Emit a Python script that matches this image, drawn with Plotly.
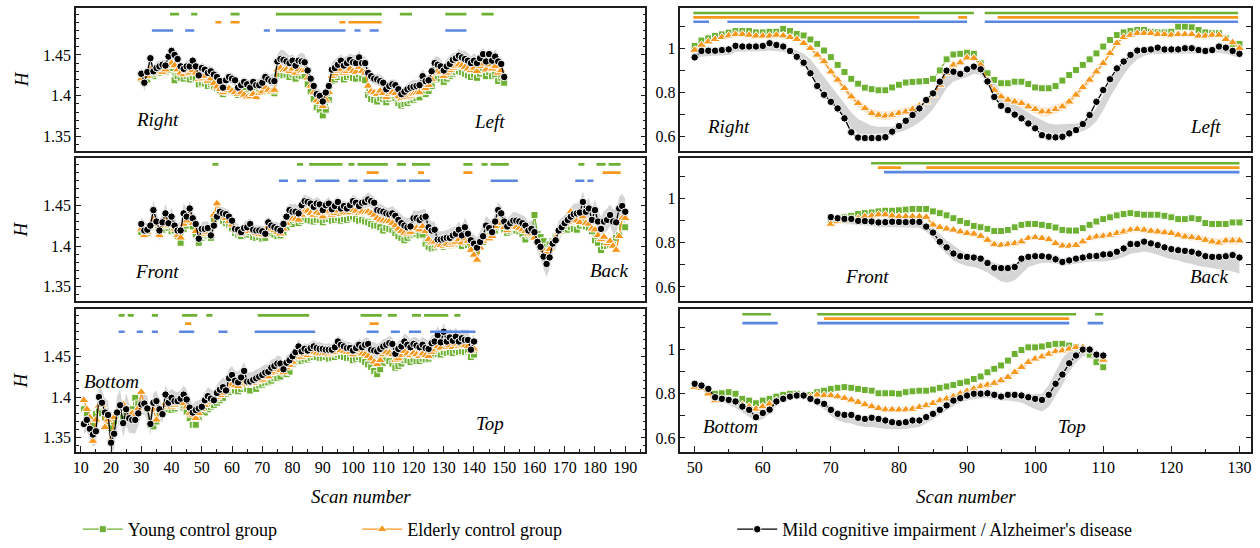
import plotly.graph_objects as go

# ---------------------------------------------------------------------------
# Column A: long scan series (scan numbers 10-190)
# ---------------------------------------------------------------------------
A_RL_SCANS = list(range(30, 151))
A_RL_MCI = [
    1.427, 1.416, 1.429, 1.446, 1.430, 1.434, 1.436, 1.438, 1.437, 1.448,
    1.455, 1.450, 1.445, 1.436, 1.433, 1.436, 1.436, 1.443, 1.436, 1.425,
    1.434, 1.432, 1.428, 1.430, 1.426, 1.423, 1.418, 1.410, 1.419, 1.423,
    1.421, 1.419, 1.410, 1.413, 1.417, 1.414, 1.410, 1.417, 1.413, 1.413,
    1.416, 1.423, 1.420, 1.418, 1.418, 1.442, 1.445, 1.444, 1.442, 1.440,
    1.443, 1.437, 1.443, 1.442, 1.441, 1.431, 1.421, 1.412, 1.402, 1.400,
    1.393, 1.404, 1.412, 1.432, 1.434, 1.438, 1.443, 1.437, 1.440, 1.444,
    1.441, 1.440, 1.447, 1.440, 1.440, 1.428, 1.424, 1.421, 1.420, 1.418,
    1.416, 1.408, 1.412, 1.414, 1.413, 1.408, 1.402, 1.405, 1.408, 1.410,
    1.411, 1.412, 1.413, 1.424, 1.418, 1.419, 1.430, 1.440, 1.438, 1.436,
    1.431, 1.436, 1.439, 1.444, 1.446, 1.449, 1.447, 1.445, 1.443, 1.440,
    1.443, 1.440, 1.446, 1.451, 1.442, 1.451, 1.443, 1.448, 1.442, 1.439,
    1.423]
A_RL_ELDERLY = [
    1.421, 1.425, 1.424, 1.432, 1.428, 1.433, 1.430, 1.429, 1.432, 1.436,
    1.440, 1.437, 1.432, 1.428, 1.426, 1.430, 1.428, 1.431, 1.428, 1.420,
    1.422, 1.424, 1.418, 1.421, 1.415, 1.411, 1.408, 1.404, 1.407, 1.409,
    1.406, 1.404, 1.402, 1.404, 1.401, 1.398, 1.399, 1.402, 1.398, 1.403,
    1.405, 1.410, 1.407, 1.405, 1.407, 1.432, 1.434, 1.431, 1.432, 1.430,
    1.433, 1.428, 1.432, 1.430, 1.431, 1.422, 1.412, 1.404, 1.394, 1.392,
    1.387, 1.395, 1.404, 1.424, 1.427, 1.430, 1.432, 1.428, 1.430, 1.433,
    1.430, 1.429, 1.435, 1.430, 1.428, 1.412, 1.405, 1.404, 1.402, 1.406,
    1.403, 1.398, 1.402, 1.404, 1.403, 1.399, 1.396, 1.397, 1.398, 1.400,
    1.402, 1.403, 1.404, 1.412, 1.409, 1.413, 1.420, 1.428, 1.430, 1.429,
    1.424, 1.428, 1.431, 1.434, 1.436, 1.438, 1.437, 1.435, 1.433, 1.431,
    1.434, 1.430, 1.436, 1.439, 1.432, 1.438, 1.433, 1.436, 1.428, 1.431,
    1.424]
A_RL_YOUNG = [
    1.421, 1.419, 1.420, 1.425, 1.424, 1.427, 1.428, 1.430, 1.429, 1.432,
    1.434, 1.419, 1.424, 1.422, 1.421, 1.424, 1.420, 1.423, 1.421, 1.414,
    1.416, 1.415, 1.412, 1.414, 1.411, 1.409, 1.407, 1.402, 1.405, 1.408,
    1.406, 1.404, 1.401, 1.404, 1.406, 1.402, 1.400, 1.405, 1.402, 1.404,
    1.405, 1.409, 1.407, 1.406, 1.403, 1.425, 1.427, 1.425, 1.426, 1.423,
    1.426, 1.421, 1.425, 1.424, 1.424, 1.414, 1.405, 1.396, 1.386, 1.383,
    1.376, 1.383, 1.395, 1.418, 1.420, 1.423, 1.426, 1.420, 1.423, 1.425,
    1.422, 1.421, 1.426, 1.421, 1.419, 1.401, 1.396, 1.395, 1.393, 1.397,
    1.396, 1.392, 1.396, 1.398, 1.397, 1.391, 1.388, 1.390, 1.391, 1.394,
    1.395, 1.397, 1.398, 1.404, 1.402, 1.406, 1.412, 1.420, 1.422, 1.421,
    1.417, 1.421, 1.424, 1.427, 1.429, 1.430, 1.429, 1.427, 1.425, 1.423,
    1.426, 1.422, 1.427, 1.430, 1.424, 1.429, 1.424, 1.426, 1.418, 1.422,
    1.416]
A_RL_SPREAD = [
    0.008, 0.010, 0.006, 0.007, 0.006, 0.008, 0.007, 0.006, 0.007, 0.006,
    0.006, 0.007, 0.008, 0.007, 0.006, 0.007, 0.008, 0.006, 0.007, 0.008,
    0.007, 0.006, 0.008, 0.007, 0.006, 0.007, 0.008, 0.009, 0.007, 0.006,
    0.007, 0.006, 0.008, 0.007, 0.006, 0.007, 0.008, 0.006, 0.007, 0.008,
    0.009, 0.007, 0.006, 0.008, 0.010, 0.009, 0.011, 0.012, 0.010, 0.009,
    0.008, 0.010, 0.008, 0.011, 0.010, 0.008, 0.007, 0.008, 0.007, 0.008,
    0.009, 0.008, 0.007, 0.009, 0.010, 0.009, 0.008, 0.010, 0.009, 0.008,
    0.009, 0.010, 0.008, 0.009, 0.008, 0.008, 0.007, 0.006, 0.007, 0.008,
    0.007, 0.008, 0.007, 0.006, 0.007, 0.008, 0.007, 0.006, 0.007, 0.008,
    0.009, 0.007, 0.008, 0.009, 0.007, 0.006, 0.007, 0.008, 0.010, 0.009,
    0.008, 0.009, 0.010, 0.008, 0.007, 0.009, 0.008, 0.010, 0.009, 0.008,
    0.009, 0.008, 0.007, 0.008, 0.009, 0.007, 0.008, 0.009, 0.007, 0.008,
    0.007]
A_RL_BARS_GREEN = [(39.5, 42.5), (46.5, 48.5), (59.5, 62.5), (74.5, 109.5),
                   (115.5, 119.5), (130.5, 137.5), (142.5, 146.5)]
A_RL_BARS_ORANGE = [(54.5, 56.5), (59.5, 62.5), (95.5, 97.5), (98.5, 109.5)]
A_RL_BARS_BLUE = [(33.5, 40.5), (44.5, 47.5), (70.5, 72.5), (74.5, 97.5),
                  (100.5, 102.5), (105.5, 108.5), (130.5, 137.5)]

A_FB_SCANS = list(range(30, 191))
A_FB_MCI = [
    1.427, 1.419, 1.420, 1.425, 1.444, 1.430, 1.419, 1.429, 1.440, 1.428,
    1.436, 1.425, 1.419, 1.419, 1.440, 1.436, 1.446, 1.434, 1.427, 1.409,
    1.421, 1.421, 1.422, 1.413, 1.425, 1.436, 1.442, 1.440, 1.439, 1.436,
    1.431, 1.421, 1.420, 1.417, 1.422, 1.423, 1.427, 1.420, 1.419, 1.419,
    1.418, 1.415, 1.429, 1.425, 1.423, 1.421, 1.419, 1.427, 1.436, 1.444,
    1.442, 1.442, 1.440, 1.450, 1.455, 1.454, 1.452, 1.448, 1.452, 1.451,
    1.444, 1.450, 1.452, 1.445, 1.449, 1.454, 1.446, 1.449, 1.446, 1.450,
    1.455, 1.453, 1.449, 1.453, 1.454, 1.457, 1.455, 1.453, 1.444, 1.443,
    1.442, 1.440, 1.439, 1.440, 1.437, 1.432, 1.428, 1.425, 1.423, 1.424,
    1.434, 1.434, 1.432, 1.435, 1.436, 1.423, 1.419, 1.420, 1.408, 1.408,
    1.409, 1.410, 1.410, 1.413, 1.415, 1.420, 1.413, 1.423, 1.415, 1.407,
    1.403, 1.398, 1.405, 1.412, 1.425, 1.422, 1.417, 1.430, 1.444, 1.440,
    1.430, 1.424, 1.428, 1.431, 1.431, 1.430, 1.428, 1.425, 1.419, 1.421,
    1.417, 1.405, 1.399, 1.387, 1.378, 1.386, 1.403, 1.407, 1.419, 1.423,
    1.428, 1.432, 1.436, 1.439, 1.440, 1.441, 1.454, 1.442, 1.446, 1.432,
    1.444, 1.430, 1.421, 1.430, 1.432, 1.438, 1.430, 1.429, 1.446, 1.449,
    1.442]
A_FB_ELDERLY = [
    1.421, 1.413, 1.417, 1.424, 1.432, 1.427, 1.413, 1.424, 1.432, 1.425,
    1.428, 1.421, 1.413, 1.410, 1.427, 1.431, 1.437, 1.428, 1.418, 1.412,
    1.418, 1.415, 1.417, 1.414, 1.438, 1.452, 1.441, 1.436, 1.434, 1.430,
    1.426, 1.420, 1.418, 1.415, 1.419, 1.418, 1.423, 1.418, 1.416, 1.414,
    1.414, 1.413, 1.424, 1.421, 1.419, 1.417, 1.415, 1.421, 1.428, 1.434,
    1.433, 1.433, 1.432, 1.438, 1.442, 1.443, 1.440, 1.438, 1.441, 1.440,
    1.436, 1.441, 1.443, 1.438, 1.440, 1.443, 1.439, 1.441, 1.440, 1.441,
    1.444, 1.443, 1.440, 1.442, 1.441, 1.442, 1.440, 1.438, 1.434, 1.432,
    1.431, 1.430, 1.430, 1.428, 1.425, 1.421, 1.418, 1.416, 1.415, 1.417,
    1.421, 1.422, 1.420, 1.424, 1.418, 1.408, 1.404, 1.405, 1.400, 1.401,
    1.400, 1.402, 1.401, 1.403, 1.405, 1.408, 1.404, 1.409, 1.406, 1.395,
    1.389, 1.383, 1.398, 1.406, 1.411, 1.409, 1.412, 1.424, 1.430, 1.428,
    1.423, 1.419, 1.422, 1.424, 1.423, 1.422, 1.420, 1.418, 1.414, 1.415,
    1.410, 1.405, 1.400, 1.395, 1.392, 1.396, 1.403, 1.410, 1.417, 1.423,
    1.427, 1.429, 1.442, 1.432, 1.431, 1.429, 1.436, 1.428, 1.427, 1.421,
    1.420, 1.413, 1.408, 1.411, 1.403, 1.406, 1.400, 1.395, 1.412, 1.434,
    1.434]
A_FB_YOUNG = [
    1.417, 1.420, 1.416, 1.423, 1.428, 1.424, 1.417, 1.420, 1.426, 1.422,
    1.418, 1.419, 1.412, 1.404, 1.421, 1.425, 1.430, 1.424, 1.414, 1.404,
    1.410, 1.412, 1.414, 1.410, 1.433, 1.440, 1.438, 1.431, 1.428, 1.426,
    1.421, 1.416, 1.414, 1.412, 1.416, 1.414, 1.417, 1.411, 1.410, 1.411,
    1.409, 1.410, 1.418, 1.416, 1.414, 1.412, 1.413, 1.416, 1.422, 1.428,
    1.427, 1.432, 1.428, 1.431, 1.433, 1.432, 1.431, 1.430, 1.432, 1.432,
    1.429, 1.432, 1.433, 1.431, 1.432, 1.434, 1.431, 1.433, 1.432, 1.434,
    1.436, 1.433, 1.431, 1.432, 1.430, 1.429, 1.427, 1.425, 1.425, 1.423,
    1.419, 1.422, 1.421, 1.420, 1.416, 1.412, 1.410, 1.407, 1.410, 1.413,
    1.414, 1.415, 1.413, 1.414, 1.403, 1.399, 1.397, 1.398, 1.399, 1.400,
    1.399, 1.401, 1.400, 1.401, 1.402, 1.403, 1.400, 1.404, 1.401, 1.396,
    1.393, 1.394, 1.400, 1.405, 1.414, 1.412, 1.415, 1.419, 1.424, 1.423,
    1.420, 1.416, 1.418, 1.420, 1.419, 1.418, 1.415, 1.408, 1.413, 1.414,
    1.438, 1.415, 1.411, 1.406, 1.399, 1.402, 1.406, 1.411, 1.417, 1.419,
    1.421, 1.420, 1.423, 1.421, 1.420, 1.425, 1.428, 1.424, 1.422, 1.418,
    1.407, 1.404, 1.395, 1.400, 1.400, 1.401, 1.405, 1.410, 1.413, 1.423,
    1.423]
A_FB_SPREAD = [
    0.009, 0.011, 0.008, 0.010, 0.012, 0.011, 0.013, 0.010, 0.012, 0.009,
    0.011, 0.010, 0.009, 0.010, 0.012, 0.010, 0.009, 0.008, 0.009, 0.010,
    0.008, 0.009, 0.008, 0.010, 0.009, 0.008, 0.007, 0.008, 0.007, 0.008,
    0.007, 0.008, 0.007, 0.006, 0.007, 0.008, 0.007, 0.006, 0.007, 0.006,
    0.007, 0.008, 0.007, 0.006, 0.007, 0.008, 0.009, 0.008, 0.007, 0.008,
    0.009, 0.010, 0.008, 0.009, 0.008, 0.007, 0.008, 0.009, 0.008, 0.007,
    0.008, 0.007, 0.008, 0.009, 0.008, 0.007, 0.008, 0.007, 0.008, 0.007,
    0.008, 0.007, 0.008, 0.007, 0.008, 0.009, 0.008, 0.007, 0.008, 0.009,
    0.008, 0.007, 0.008, 0.009, 0.008, 0.010, 0.011, 0.010, 0.012, 0.011,
    0.010, 0.009, 0.011, 0.010, 0.009, 0.010, 0.011, 0.010, 0.009, 0.010,
    0.009, 0.010, 0.011, 0.010, 0.009, 0.010, 0.011, 0.012, 0.011, 0.010,
    0.011, 0.012, 0.013, 0.014, 0.012, 0.011, 0.010, 0.011, 0.010, 0.009,
    0.010, 0.009, 0.010, 0.011, 0.010, 0.009, 0.010, 0.011, 0.010, 0.011,
    0.012, 0.013, 0.014, 0.015, 0.016, 0.014, 0.012, 0.011, 0.012, 0.011,
    0.010, 0.011, 0.012, 0.013, 0.012, 0.014, 0.013, 0.012, 0.013, 0.014,
    0.013, 0.014, 0.015, 0.013, 0.014, 0.013, 0.015, 0.016, 0.014, 0.015,
    0.016]
A_FB_BARS_GREEN = [(53.5, 55.5), (81.5, 83.5), (85.5, 96.5), (98.5, 100.5),
                   (101.5, 111.5), (114.5, 117.5), (119.5, 125.5), (136.5, 139.5),
                   (142.5, 144.5), (145.5, 151.5), (174.5, 176.5), (180.5, 183.5),
                   (184.5, 188.5)]
A_FB_BARS_ORANGE = [(104.5, 108.5), (121.5, 123.5), (136.5, 139.5), (182.5, 188.5)]
A_FB_BARS_BLUE = [(75.5, 78.5), (81.5, 84.5), (87.5, 95.5), (98.5, 101.5),
                  (103.5, 111.5), (114.5, 117.5), (118.5, 125.5), (145.5, 154.5),
                  (173.5, 176.5), (177.5, 179.5)]

A_BT_SCANS = list(range(11, 141))
A_BT_MCI = [
    1.367, 1.372, 1.361, 1.354, 1.358, 1.400, 1.393, 1.381, 1.378, 1.344,
    1.355, 1.381, 1.390, 1.368, 1.385, 1.374, 1.372, 1.372, 1.380, 1.391,
    1.392, 1.386, 1.367, 1.393, 1.395, 1.385, 1.379, 1.403, 1.393, 1.399,
    1.395, 1.395, 1.398, 1.403, 1.397, 1.387, 1.381, 1.384, 1.386, 1.388,
    1.396, 1.401, 1.398, 1.396, 1.405, 1.409, 1.412, 1.408, 1.423, 1.427,
    1.420, 1.418, 1.424, 1.432, 1.419, 1.419, 1.421, 1.423, 1.425, 1.427,
    1.430, 1.431, 1.436, 1.438, 1.441, 1.441, 1.434, 1.442, 1.445, 1.450,
    1.455, 1.462, 1.456, 1.459, 1.457, 1.460, 1.462, 1.460, 1.459, 1.459,
    1.458, 1.458, 1.458, 1.461, 1.468, 1.464, 1.462, 1.460, 1.460, 1.457,
    1.460, 1.464, 1.461, 1.464, 1.465, 1.458, 1.457, 1.456, 1.459, 1.462,
    1.464, 1.466, 1.465, 1.453, 1.459, 1.462, 1.468, 1.464, 1.461, 1.465,
    1.463, 1.461, 1.464, 1.460, 1.459, 1.466, 1.468, 1.476, 1.467, 1.480,
    1.468, 1.473, 1.469, 1.474, 1.468, 1.472, 1.470, 1.470, 1.458, 1.468]
A_BT_ELDERLY = [
    1.396, 1.385, 1.375, 1.346, 1.372, 1.389, 1.390, 1.363, 1.372, 1.348,
    1.375, 1.382, 1.388, 1.391, 1.385, 1.380, 1.380, 1.378, 1.386, 1.406,
    1.390, 1.387, 1.385, 1.384, 1.372, 1.385, 1.388, 1.392, 1.390, 1.388,
    1.390, 1.392, 1.395, 1.392, 1.388, 1.380, 1.378, 1.374, 1.380, 1.385,
    1.390, 1.394, 1.396, 1.397, 1.400, 1.402, 1.405, 1.410, 1.413, 1.416,
    1.414, 1.413, 1.417, 1.420, 1.415, 1.416, 1.417, 1.419, 1.420, 1.421,
    1.424, 1.425, 1.429, 1.431, 1.434, 1.433, 1.430, 1.436, 1.439, 1.443,
    1.448, 1.453, 1.449, 1.452, 1.451, 1.454, 1.455, 1.454, 1.453, 1.453,
    1.454, 1.452, 1.454, 1.455, 1.460, 1.457, 1.456, 1.455, 1.455, 1.452,
    1.455, 1.457, 1.453, 1.452, 1.450, 1.447, 1.443, 1.440, 1.445, 1.452,
    1.455, 1.454, 1.452, 1.445, 1.447, 1.451, 1.456, 1.453, 1.451, 1.454,
    1.452, 1.450, 1.453, 1.451, 1.450, 1.455, 1.458, 1.462, 1.460, 1.466,
    1.461, 1.463, 1.461, 1.465, 1.462, 1.464, 1.463, 1.462, 1.456, 1.459]
A_BT_YOUNG = [
    1.385, 1.380, 1.370, 1.365, 1.379, 1.384, 1.380, 1.375, 1.370, 1.362,
    1.370, 1.378, 1.380, 1.376, 1.382, 1.382, 1.385, 1.399, 1.392, 1.390,
    1.390, 1.385, 1.366, 1.364, 1.370, 1.380, 1.384, 1.387, 1.385, 1.384,
    1.386, 1.389, 1.390, 1.387, 1.382, 1.374, 1.366, 1.366, 1.375, 1.380,
    1.381, 1.385, 1.388, 1.390, 1.393, 1.396, 1.399, 1.404, 1.406, 1.409,
    1.408, 1.407, 1.410, 1.413, 1.410, 1.408, 1.416, 1.410, 1.414, 1.415,
    1.417, 1.418, 1.420, 1.423, 1.423, 1.425, 1.430, 1.428, 1.431, 1.440,
    1.443, 1.447, 1.444, 1.446, 1.446, 1.448, 1.449, 1.449, 1.448, 1.448,
    1.449, 1.447, 1.448, 1.449, 1.452, 1.450, 1.449, 1.448, 1.448, 1.445,
    1.447, 1.449, 1.446, 1.443, 1.440, 1.437, 1.432, 1.428, 1.434, 1.442,
    1.446, 1.444, 1.441, 1.436, 1.438, 1.441, 1.445, 1.445, 1.443, 1.446,
    1.444, 1.444, 1.447, 1.446, 1.447, 1.450, 1.452, 1.453, 1.452, 1.455,
    1.454, 1.455, 1.454, 1.457, 1.455, 1.456, 1.455, 1.456, 1.449, 1.452]
A_BT_SPREAD = [
    0.012, 0.014, 0.013, 0.015, 0.016, 0.014, 0.015, 0.017, 0.018, 0.016,
    0.018, 0.020, 0.019, 0.017, 0.020, 0.018, 0.016, 0.017, 0.015, 0.014,
    0.013, 0.015, 0.014, 0.012, 0.013, 0.012, 0.011, 0.012, 0.013, 0.011,
    0.012, 0.011, 0.010, 0.011, 0.012, 0.011, 0.010, 0.011, 0.010, 0.011,
    0.010, 0.011, 0.012, 0.011, 0.010, 0.011, 0.012, 0.013, 0.012, 0.011,
    0.012, 0.013, 0.012, 0.011, 0.012, 0.011, 0.010, 0.011, 0.010, 0.011,
    0.010, 0.009, 0.010, 0.009, 0.010, 0.009, 0.008, 0.009, 0.008, 0.009,
    0.008, 0.009, 0.008, 0.007, 0.008, 0.007, 0.008, 0.007, 0.008, 0.007,
    0.007, 0.008, 0.007, 0.008, 0.007, 0.008, 0.007, 0.008, 0.007, 0.008,
    0.008, 0.007, 0.008, 0.009, 0.008, 0.009, 0.010, 0.009, 0.008, 0.009,
    0.008, 0.009, 0.008, 0.009, 0.010, 0.009, 0.010, 0.011, 0.010, 0.009,
    0.010, 0.009, 0.010, 0.011, 0.010, 0.009, 0.010, 0.011, 0.012, 0.011,
    0.010, 0.011, 0.012, 0.011, 0.010, 0.011, 0.012, 0.013, 0.011, 0.010]
A_BT_BARS_GREEN = [(22.5, 24.5), (25.5, 27.5), (33.5, 35.5), (43.5, 48.5),
                   (51.5, 53.5), (68.5, 85.5), (102.5, 109.5), (111.5, 114.5),
                   (119.5, 122.5), (123.5, 131.5), (133.5, 135.5)]
A_BT_BARS_ORANGE = [(44.5, 46.5), (105.5, 108.5)]
A_BT_BARS_BLUE = [(22.5, 24.5), (28.5, 30.5), (33.5, 35.5), (42.5, 47.5),
                  (55.5, 58.5), (67.5, 87.5), (104.5, 108.5), (112.5, 115.5),
                  (118.5, 122.5), (125.5, 140.5)]

# ---------------------------------------------------------------------------
# Column B: short scan series (scan numbers 50-130)
# ---------------------------------------------------------------------------
B_RL_SCANS = list(range(50, 131))
B_RL_MCI = [
    0.959, 0.988, 0.989, 0.989, 0.992, 0.995, 1.011, 1.008, 1.008, 1.008,
    1.011, 1.023, 1.015, 1.008, 0.988, 0.962, 0.935, 0.887, 0.830, 0.790,
    0.758, 0.728, 0.683, 0.620, 0.596, 0.594, 0.594, 0.594, 0.598, 0.623,
    0.648, 0.672, 0.698, 0.728, 0.766, 0.796, 0.849, 0.899, 0.894, 0.884,
    0.905, 0.917, 0.905, 0.850, 0.780, 0.740, 0.720, 0.700, 0.683, 0.660,
    0.638, 0.607, 0.600, 0.597, 0.600, 0.615, 0.630, 0.657, 0.698, 0.758,
    0.811, 0.860, 0.909, 0.940, 0.970, 0.990, 0.992, 0.995, 1.003, 0.995,
    0.995, 0.995, 1.000, 1.000, 0.992, 0.988, 0.992, 1.008, 1.003, 0.988,
    0.975]
B_RL_ELDERLY = [
    0.992, 1.015, 1.030, 1.041, 1.050, 1.057, 1.063, 1.063, 1.060, 1.056,
    1.056, 1.056, 1.060, 1.057, 1.050, 1.041, 1.023, 1.000, 0.970, 0.940,
    0.894, 0.857, 0.819, 0.781, 0.751, 0.728, 0.706, 0.698, 0.694, 0.698,
    0.706, 0.713, 0.724, 0.739, 0.758, 0.789, 0.834, 0.887, 0.925, 0.935,
    0.957, 0.955, 0.925, 0.857, 0.811, 0.781, 0.766, 0.758, 0.751, 0.736,
    0.724, 0.713, 0.713, 0.724, 0.736, 0.758, 0.789, 0.823, 0.857, 0.894,
    0.932, 0.977, 1.023, 1.050, 1.060, 1.068, 1.068, 1.068, 1.063, 1.063,
    1.060, 1.063, 1.063, 1.063, 1.056, 1.056, 1.060, 1.060, 1.041, 1.026,
    1.000]
B_RL_YOUNG = [
    1.011, 1.035, 1.045, 1.056, 1.063, 1.071, 1.078, 1.078, 1.078, 1.072,
    1.072, 1.075, 1.075, 1.088, 1.078, 1.065, 1.058, 1.040, 1.020, 0.990,
    0.960, 0.925, 0.893, 0.862, 0.840, 0.822, 0.815, 0.810, 0.810, 0.823,
    0.835, 0.845, 0.848, 0.850, 0.852, 0.862, 0.900, 0.950, 0.972, 0.975,
    0.980, 0.975, 0.932, 0.887, 0.857, 0.842, 0.842, 0.849, 0.849, 0.838,
    0.823, 0.819, 0.819, 0.829, 0.854, 0.879, 0.902, 0.925, 0.950, 0.977,
    1.008, 1.038, 1.060, 1.072, 1.078, 1.083, 1.083, 1.075, 1.072, 1.072,
    1.075, 1.098, 1.098, 1.095, 1.083, 1.072, 1.068, 1.068, 1.045, 1.020,
    1.020]
B_RL_MCI_LO = [
    0.950, 0.962, 0.965, 0.966, 0.968, 0.970, 0.985, 0.985, 0.986, 0.986,
    0.987, 0.990, 0.988, 0.985, 0.978, 0.958, 0.932, 0.890, 0.835, 0.793,
    0.758, 0.722, 0.683, 0.640, 0.615, 0.610, 0.610, 0.613, 0.615, 0.615,
    0.620, 0.630, 0.645, 0.665, 0.690, 0.725, 0.770, 0.820, 0.850, 0.860,
    0.870, 0.885, 0.880, 0.850, 0.785, 0.745, 0.722, 0.702, 0.684, 0.662,
    0.642, 0.625, 0.615, 0.613, 0.615, 0.618, 0.620, 0.625, 0.640, 0.670,
    0.720, 0.780, 0.830, 0.880, 0.920, 0.950, 0.965, 0.975, 0.975, 0.975,
    0.975, 0.975, 0.976, 0.976, 0.975, 0.975, 0.976, 0.980, 0.975, 0.965,
    0.955]
B_RL_MCI_HI = [
    0.970, 0.990, 0.993, 0.993, 0.994, 0.996, 1.012, 1.014, 1.015, 1.015,
    1.015, 1.020, 1.018, 1.010, 1.000, 0.990, 0.975, 0.950, 0.910, 0.870,
    0.830, 0.790, 0.750, 0.710, 0.680, 0.665, 0.650, 0.645, 0.645, 0.645,
    0.655, 0.675, 0.700, 0.730, 0.765, 0.800, 0.850, 0.890, 0.895, 0.890,
    0.905, 0.920, 0.915, 0.900, 0.850, 0.800, 0.770, 0.750, 0.730, 0.710,
    0.690, 0.675, 0.660, 0.655, 0.655, 0.658, 0.660, 0.665, 0.690, 0.730,
    0.790, 0.850, 0.900, 0.940, 0.965, 0.985, 0.995, 1.000, 1.005, 1.005,
    1.005, 1.005, 1.006, 1.006, 1.005, 1.003, 1.006, 1.010, 1.003, 0.993,
    0.982]
B_RL_ELDERLY_SD = [
    0.006, 0.006, 0.006, 0.006, 0.006, 0.006, 0.006, 0.006, 0.006, 0.006,
    0.006, 0.006, 0.006, 0.006, 0.007, 0.008, 0.009, 0.010, 0.012, 0.013,
    0.014, 0.015, 0.016, 0.017, 0.018, 0.018, 0.019, 0.019, 0.019, 0.019,
    0.018, 0.018, 0.017, 0.016, 0.015, 0.014, 0.012, 0.010, 0.009, 0.008,
    0.008, 0.008, 0.009, 0.011, 0.013, 0.014, 0.015, 0.016, 0.017, 0.018,
    0.019, 0.020, 0.020, 0.020, 0.019, 0.018, 0.017, 0.015, 0.013, 0.012,
    0.010, 0.009, 0.008, 0.007, 0.006, 0.006, 0.006, 0.006, 0.006, 0.006,
    0.006, 0.006, 0.006, 0.006, 0.006, 0.006, 0.006, 0.006, 0.006, 0.006,
    0.006]
B_RL_BARS_GREEN = [(49.8, 91.0), (92.6, 129.8)]
B_RL_BARS_ORANGE = [(49.8, 83.0), (88.7, 90.0), (94.5, 129.8)]
B_RL_BARS_BLUE = [(49.8, 52.1), (54.8, 90.0), (92.6, 129.8)]

B_FB_SCANS = list(range(70, 131))
B_FB_MCI = [
    0.916, 0.911, 0.908, 0.908, 0.899, 0.898, 0.896, 0.892, 0.893, 0.895,
    0.894, 0.893, 0.895, 0.894, 0.873, 0.846, 0.805, 0.779, 0.751, 0.739,
    0.736, 0.733, 0.728, 0.708, 0.687, 0.685, 0.685, 0.690, 0.728, 0.736,
    0.739, 0.739, 0.736, 0.725, 0.713, 0.720, 0.728, 0.733, 0.739, 0.740,
    0.747, 0.748, 0.759, 0.774, 0.794, 0.794, 0.805, 0.797, 0.789, 0.779,
    0.771, 0.766, 0.763, 0.759, 0.751, 0.739, 0.736, 0.736, 0.739, 0.744,
    0.733]
B_FB_ELDERLY = [
    0.885, 0.896, 0.900, 0.907, 0.911, 0.919, 0.922, 0.927, 0.927, 0.922,
    0.919, 0.919, 0.919, 0.919, 0.916, 0.881, 0.870, 0.863, 0.858, 0.850,
    0.843, 0.840, 0.830, 0.812, 0.792, 0.789, 0.792, 0.797, 0.805, 0.820,
    0.824, 0.820, 0.815, 0.797, 0.786, 0.785, 0.789, 0.805, 0.820, 0.827,
    0.830, 0.835, 0.843, 0.850, 0.858, 0.861, 0.858, 0.853, 0.850, 0.846,
    0.843, 0.835, 0.827, 0.824, 0.820, 0.812, 0.805, 0.800, 0.809, 0.809,
    0.809]
B_FB_YOUNG = [
    0.895, 0.905, 0.915, 0.922, 0.930, 0.934, 0.937, 0.942, 0.945, 0.945,
    0.947, 0.950, 0.953, 0.953, 0.953, 0.942, 0.934, 0.924, 0.911, 0.899,
    0.889, 0.876, 0.870, 0.863, 0.853, 0.853, 0.858, 0.870, 0.881, 0.885,
    0.885, 0.881, 0.876, 0.869, 0.858, 0.855, 0.855, 0.866, 0.881, 0.896,
    0.907, 0.915, 0.924, 0.930, 0.934, 0.930, 0.927, 0.927, 0.927, 0.922,
    0.915, 0.907, 0.907, 0.911, 0.907, 0.889, 0.885, 0.885, 0.885, 0.892,
    0.892]
B_FB_MCI_LO = [
    0.890, 0.886, 0.884, 0.884, 0.880, 0.878, 0.876, 0.872, 0.870, 0.870,
    0.870, 0.870, 0.870, 0.868, 0.850, 0.820, 0.780, 0.750, 0.720, 0.705,
    0.695, 0.690, 0.680, 0.665, 0.645, 0.625, 0.620, 0.630, 0.660, 0.690,
    0.700, 0.710, 0.710, 0.705, 0.700, 0.700, 0.705, 0.710, 0.715, 0.715,
    0.715, 0.720, 0.725, 0.735, 0.750, 0.755, 0.760, 0.755, 0.745, 0.735,
    0.725, 0.720, 0.710, 0.705, 0.695, 0.690, 0.685, 0.680, 0.675, 0.670,
    0.660]
B_FB_MCI_HI = [
    0.916, 0.912, 0.910, 0.909, 0.903, 0.901, 0.899, 0.896, 0.896, 0.897,
    0.897, 0.896, 0.897, 0.896, 0.890, 0.870, 0.840, 0.810, 0.790, 0.765,
    0.750, 0.745, 0.735, 0.720, 0.710, 0.700, 0.700, 0.705, 0.720, 0.740,
    0.745, 0.750, 0.745, 0.740, 0.730, 0.735, 0.740, 0.745, 0.750, 0.755,
    0.760, 0.765, 0.770, 0.785, 0.800, 0.805, 0.810, 0.805, 0.795, 0.785,
    0.780, 0.775, 0.770, 0.765, 0.760, 0.750, 0.750, 0.750, 0.750, 0.750,
    0.745]
B_FB_ELDERLY_SD = [
    0.006, 0.006, 0.007, 0.007, 0.007, 0.008, 0.008, 0.008, 0.008, 0.008,
    0.008, 0.008, 0.008, 0.008, 0.009, 0.010, 0.010, 0.011, 0.011, 0.011,
    0.011, 0.012, 0.012, 0.013, 0.013, 0.013, 0.013, 0.013, 0.013, 0.012,
    0.012, 0.012, 0.012, 0.013, 0.013, 0.013, 0.013, 0.013, 0.012, 0.012,
    0.012, 0.012, 0.013, 0.013, 0.014, 0.014, 0.014, 0.014, 0.014, 0.014,
    0.014, 0.014, 0.015, 0.015, 0.015, 0.016, 0.016, 0.017, 0.017, 0.018,
    0.018]
B_FB_BARS_GREEN = [(75.9, 130.0)]
B_FB_BARS_ORANGE = [(76.9, 80.3), (84.0, 130.0)]
B_FB_BARS_BLUE = [(77.8, 130.0)]

B_BT_SCANS = list(range(50, 111))
B_BT_YOUNG_SCANS = list(range(53, 111))
B_BT_MCI = [
    0.845, 0.837, 0.822, 0.784, 0.777, 0.772, 0.765, 0.742, 0.727, 0.694,
    0.713, 0.728, 0.765, 0.777, 0.787, 0.792, 0.792, 0.777, 0.765, 0.754,
    0.727, 0.709, 0.704, 0.704, 0.691, 0.686, 0.691, 0.686, 0.679, 0.671,
    0.667, 0.671, 0.679, 0.679, 0.694, 0.709, 0.727, 0.747, 0.769, 0.780,
    0.792, 0.800, 0.800, 0.802, 0.795, 0.787, 0.795, 0.795, 0.792, 0.784,
    0.777, 0.772, 0.795, 0.845, 0.887, 0.938, 0.973, 1.000, 1.000, 0.977,
    0.973]
B_BT_ELDERLY = [
    0.830, 0.825, 0.800, 0.769, 0.769, 0.769, 0.765, 0.750, 0.742, 0.731,
    0.742, 0.754, 0.769, 0.777, 0.784, 0.792, 0.792, 0.787, 0.795, 0.792,
    0.792, 0.787, 0.780, 0.772, 0.762, 0.751, 0.742, 0.734, 0.728, 0.728,
    0.727, 0.728, 0.731, 0.739, 0.747, 0.757, 0.769, 0.777, 0.787, 0.800,
    0.811, 0.822, 0.833, 0.840, 0.848, 0.860, 0.875, 0.897, 0.920, 0.943,
    0.958, 0.968, 0.980, 0.991, 0.995, 1.003, 1.010, 1.010, 0.995, 0.980,
    0.953]
B_BT_YOUNG = [
    0.800, 0.802, 0.807, 0.800, 0.777, 0.769, 0.757,
    0.769, 0.777, 0.787, 0.795, 0.800, 0.800, 0.792, 0.795, 0.807, 0.814,
    0.822, 0.827, 0.830, 0.827, 0.822, 0.817, 0.814, 0.802, 0.802, 0.802,
    0.800, 0.807, 0.811, 0.814, 0.814, 0.819, 0.827, 0.833, 0.840, 0.848,
    0.855, 0.867, 0.878, 0.897, 0.913, 0.928, 0.950, 0.980, 0.998, 1.010,
    1.010, 1.014, 1.021, 1.026, 1.026, 1.018, 1.010, 1.003, 0.977, 0.943,
    0.920]
B_BT_MCI_LO = [
    0.830, 0.820, 0.800, 0.770, 0.760, 0.750, 0.735, 0.715, 0.695, 0.675,
    0.685, 0.710, 0.745, 0.765, 0.775, 0.780, 0.780, 0.770, 0.750, 0.730,
    0.700, 0.680, 0.670, 0.665, 0.655, 0.650, 0.650, 0.645, 0.640, 0.640,
    0.640, 0.640, 0.645, 0.650, 0.665, 0.685, 0.705, 0.725, 0.745, 0.760,
    0.770, 0.775, 0.780, 0.780, 0.775, 0.770, 0.770, 0.765, 0.760, 0.745,
    0.730, 0.720, 0.740, 0.790, 0.840, 0.900, 0.940, 0.970, 0.970, 0.955,
    0.955]
B_BT_MCI_HI = [
    0.850, 0.845, 0.830, 0.800, 0.790, 0.785, 0.775, 0.760, 0.745, 0.720,
    0.730, 0.750, 0.785, 0.800, 0.810, 0.815, 0.810, 0.800, 0.785, 0.770,
    0.745, 0.725, 0.715, 0.710, 0.700, 0.695, 0.695, 0.690, 0.685, 0.680,
    0.675, 0.680, 0.685, 0.690, 0.705, 0.720, 0.740, 0.760, 0.780, 0.790,
    0.800, 0.810, 0.815, 0.815, 0.810, 0.800, 0.800, 0.800, 0.800, 0.795,
    0.800, 0.800, 0.840, 0.900, 0.960, 0.995, 1.000, 1.005, 1.000, 0.985,
    0.980]
B_BT_ELDERLY_SD = [
    0.008, 0.008, 0.008, 0.009, 0.009, 0.009, 0.010, 0.010, 0.010, 0.011,
    0.011, 0.010, 0.010, 0.009, 0.009, 0.009, 0.009, 0.009, 0.010, 0.010,
    0.010, 0.011, 0.011, 0.012, 0.012, 0.012, 0.012, 0.012, 0.012, 0.012,
    0.012, 0.012, 0.012, 0.012, 0.012, 0.012, 0.012, 0.012, 0.012, 0.012,
    0.012, 0.012, 0.013, 0.013, 0.013, 0.013, 0.013, 0.013, 0.013, 0.012,
    0.012, 0.011, 0.011, 0.010, 0.010, 0.009, 0.009, 0.009, 0.009, 0.009,
    0.009]
B_BT_BARS_GREEN = [(57.0, 61.2), (68.0, 106.0), (108.8, 110.0)]
B_BT_BARS_ORANGE = [(69.0, 105.0)]
B_BT_BARS_BLUE = [(57.0, 62.2), (68.0, 105.0), (107.7, 110.0)]

GROUP_NAMES = ["Young control group", "Elderly control group",
               "Mild cognitive impairment / Alzheimer's disease"]
A_TICKS = [1.35, 1.40, 1.45]
B_TICKS = [0.6, 0.8, 1.0]

# ---------------------------------------------------------------------------
# Styling
# ---------------------------------------------------------------------------
W, H = 1260, 548
SERIF = "Liberation Serif, Times New Roman, serif"
GREEN = "#6cb132"
ORANGE = "#f7981d"
BLUE = "#5b86e2"
GREY_BAND = "#d5d5d5"
ORANGE_BAND = "rgba(251,196,140,0.45)"
FRAME = "#1e1e1e"

COL_X = {"A": (73, 644), "B": (679, 1251)}
ROW_Y = {0: (8, 150.5), 1: (158.3, 300.7), 2: (309.3, 451.7)}
X_RANGE = {"A": [8.35, 196.7], "B": [47.9, 131.7]}
Y_RANGE = {"A": [1.333, 1.5075], "B": [0.5376, 1.1824]}
BAR_LEVELS = {"A": (1.50, 1.49, 1.48), "B": (1.16, 1.14, 1.12)}


def xdom(col):
    a, b = COL_X[col]
    return [a / W, b / W]


def ydom(row):
    top, bottom = ROW_Y[row]
    return [1 - bottom / H, 1 - top / H]


fig = go.Figure()


def band(x, lo, hi, color, xa, ya):
    fig.add_trace(go.Scatter(
        x=list(x) + list(x)[::-1], y=list(lo) + list(hi)[::-1],
        fill="toself", fillcolor=color, mode="lines", line=dict(width=0),
        xaxis=xa, yaxis=ya, showlegend=False, hoverinfo="skip"))


def series(x, y, color, symbol, size, name, legend, xa, ya, show):
    fig.add_trace(go.Scatter(
        x=x, y=y, mode="lines+markers", name=name,
        line=dict(color=color, width=1.3),
        marker=dict(symbol=symbol, size=size, color=color,
                    line=dict(color="white", width=1)),
        xaxis=xa, yaxis=ya, showlegend=show, legend=legend))


def bars(segments, level, color, xa, ya):
    xs, ys = [], []
    for a, b in segments:
        xs += [a, b, None]
        ys += [level, level, None]
    fig.add_trace(go.Scatter(
        x=xs, y=ys, mode="lines", line=dict(color=color, width=2.6),
        xaxis=xa, yaxis=ya, showlegend=False, hoverinfo="skip"))


panels = [
    # idx, column, row, scans, young scans, young, elderly, mci, lo, hi, elderly sd, bars
    (1, "A", 0, A_RL_SCANS, A_RL_SCANS, A_RL_YOUNG, A_RL_ELDERLY, A_RL_MCI,
     [m - s for m, s in zip(A_RL_MCI, A_RL_SPREAD)],
     [m + s for m, s in zip(A_RL_MCI, A_RL_SPREAD)], None,
     (A_RL_BARS_GREEN, A_RL_BARS_ORANGE, A_RL_BARS_BLUE)),
    (2, "B", 0, B_RL_SCANS, B_RL_SCANS, B_RL_YOUNG, B_RL_ELDERLY, B_RL_MCI,
     B_RL_MCI_LO, B_RL_MCI_HI, B_RL_ELDERLY_SD,
     (B_RL_BARS_GREEN, B_RL_BARS_ORANGE, B_RL_BARS_BLUE)),
    (3, "A", 1, A_FB_SCANS, A_FB_SCANS, A_FB_YOUNG, A_FB_ELDERLY, A_FB_MCI,
     [m - s for m, s in zip(A_FB_MCI, A_FB_SPREAD)],
     [m + s for m, s in zip(A_FB_MCI, A_FB_SPREAD)], None,
     (A_FB_BARS_GREEN, A_FB_BARS_ORANGE, A_FB_BARS_BLUE)),
    (4, "B", 1, B_FB_SCANS, B_FB_SCANS, B_FB_YOUNG, B_FB_ELDERLY, B_FB_MCI,
     B_FB_MCI_LO, B_FB_MCI_HI, B_FB_ELDERLY_SD,
     (B_FB_BARS_GREEN, B_FB_BARS_ORANGE, B_FB_BARS_BLUE)),
    (5, "A", 2, A_BT_SCANS, A_BT_SCANS, A_BT_YOUNG, A_BT_ELDERLY, A_BT_MCI,
     [m - s for m, s in zip(A_BT_MCI, A_BT_SPREAD)],
     [m + s for m, s in zip(A_BT_MCI, A_BT_SPREAD)], None,
     (A_BT_BARS_GREEN, A_BT_BARS_ORANGE, A_BT_BARS_BLUE)),
    (6, "B", 2, B_BT_SCANS, B_BT_YOUNG_SCANS, B_BT_YOUNG, B_BT_ELDERLY, B_BT_MCI,
     B_BT_MCI_LO, B_BT_MCI_HI, B_BT_ELDERLY_SD,
     (B_BT_BARS_GREEN, B_BT_BARS_ORANGE, B_BT_BARS_BLUE)),
]

layout_axes = {}
for idx, col, row, scans, yscans, young, elderly, mci, lo, hi, esd, bar_sets in panels:
    assert len(scans) == len(mci) == len(elderly) == len(lo) == len(hi), idx
    assert len(yscans) == len(young), idx
    xa = "x" if idx == 1 else f"x{idx}"
    ya = "y" if idx == 1 else f"y{idx}"
    show = idx == 1

    band(scans, lo, hi, GREY_BAND, xa, ya)
    if esd is not None:
        band(scans, [e - s for e, s in zip(elderly, esd)],
             [e + s for e, s in zip(elderly, esd)], ORANGE_BAND, xa, ya)
    series(yscans, young, GREEN, "square", 7, GROUP_NAMES[0], "legend", xa, ya, show)
    series(scans, elderly, ORANGE, "triangle-up", 9, GROUP_NAMES[1], "legend2", xa, ya, show)
    series(scans, mci, "black", "circle", 7.5, GROUP_NAMES[2], "legend3", xa, ya, show)
    for segs, level, color in zip(bar_sets, BAR_LEVELS[col], (GREEN, ORANGE, BLUE)):
        bars(segs, level, color, xa, ya)

    bottom = row == 2
    xname = "xaxis" if idx == 1 else f"xaxis{idx}"
    yname = "yaxis" if idx == 1 else f"yaxis{idx}"
    layout_axes[xname] = dict(
        domain=xdom(col), range=X_RANGE[col], anchor=ya,
        showline=True, mirror=True, linecolor=FRAME, linewidth=1.5,
        showgrid=False, zeroline=False,
        ticks="inside" if bottom else "", ticklen=6, tickwidth=1.2, tickcolor=FRAME,
        tick0=10, dtick=10, showticklabels=bottom,
        minor=dict(ticks="inside" if bottom else "", dtick=5, tick0=10,
                   ticklen=3, tickwidth=1, tickcolor=FRAME),
        tickfont=dict(family=SERIF, size=16, color="black"))
    if col == "A":
        ytick = dict(tickmode="array", tickvals=A_TICKS,
                     minor=dict(ticks="inside", tickmode="linear", tick0=1.35,
                                dtick=0.01, ticklen=3, tickwidth=1, tickcolor=FRAME))
    else:
        ytick = dict(tickmode="array", tickvals=B_TICKS,
                     minor=dict(ticks="inside", tickmode="linear", tick0=0.6,
                                dtick=0.1, ticklen=5, tickwidth=1.2, tickcolor=FRAME))
    layout_axes[yname] = dict(
        domain=ydom(row), range=Y_RANGE[col], anchor=xa,
        showline=True, mirror="ticks", linecolor=FRAME, linewidth=1.5,
        showgrid=False, zeroline=False, ticks="inside", ticklen=5, tickwidth=1.2,
        tickcolor=FRAME, tickfont=dict(family=SERIF, size=16, color="black"),
        **ytick)

fig.update_layout(**layout_axes)

# Panel labels, y labels and axis titles
annotations = []
labels = [
    ("Right", 154.5, 120), ("Left", 487.5, 121),
    ("Front", 154.5, 271), ("Back", 608, 270),
    ("Bottom", 109, 381), ("Top", 488, 423),
    ("Right", 727.5, 126), ("Left", 1205, 126),
    ("Front", 866, 276), ("Back", 1209, 276),
    ("Bottom", 729, 426), ("Top", 1071.5, 426),
]
for text, px, py in labels:
    annotations.append(dict(text=f"<i>{text}</i>", x=px / W, y=1 - py / H,
                            xref="paper", yref="paper", showarrow=False,
                            xanchor="center", yanchor="middle",
                            font=dict(family=SERIF, size=19, color="black")))
for row in (0, 1, 2):
    top, bottom = ROW_Y[row]
    annotations.append(dict(text="<i>H</i>", x=18 / W, y=1 - (top + bottom) / 2 / H,
                            xref="paper", yref="paper", showarrow=False,
                            textangle=-90, xanchor="center", yanchor="middle",
                            font=dict(family=SERIF, size=19, color="black")))
for col in ("A", "B"):
    a, b = COL_X[col]
    annotations.append(dict(text="<i>Scan number</i>", x=(a + b) / 2 / W, y=1 - 496 / H,
                            xref="paper", yref="paper", showarrow=False,
                            xanchor="center", yanchor="middle",
                            font=dict(family=SERIF, size=19, color="black")))

legend_style = dict(orientation="h", yanchor="bottom", y=0.0, xanchor="left",
                    bgcolor="rgba(0,0,0,0)", borderwidth=0, itemwidth=40,
                    font=dict(family=SERIF, size=18, color="black"))

fig.update_layout(
    width=W, height=H, margin=dict(l=0, r=0, t=0, b=0),
    paper_bgcolor="white", plot_bgcolor="white",
    annotations=annotations,
    legend=dict(x=75 / W, **legend_style),
    legend2=dict(x=355 / W, **legend_style),
    legend3=dict(x=731 / W, **legend_style),
)

fig.write_html("out.html")
